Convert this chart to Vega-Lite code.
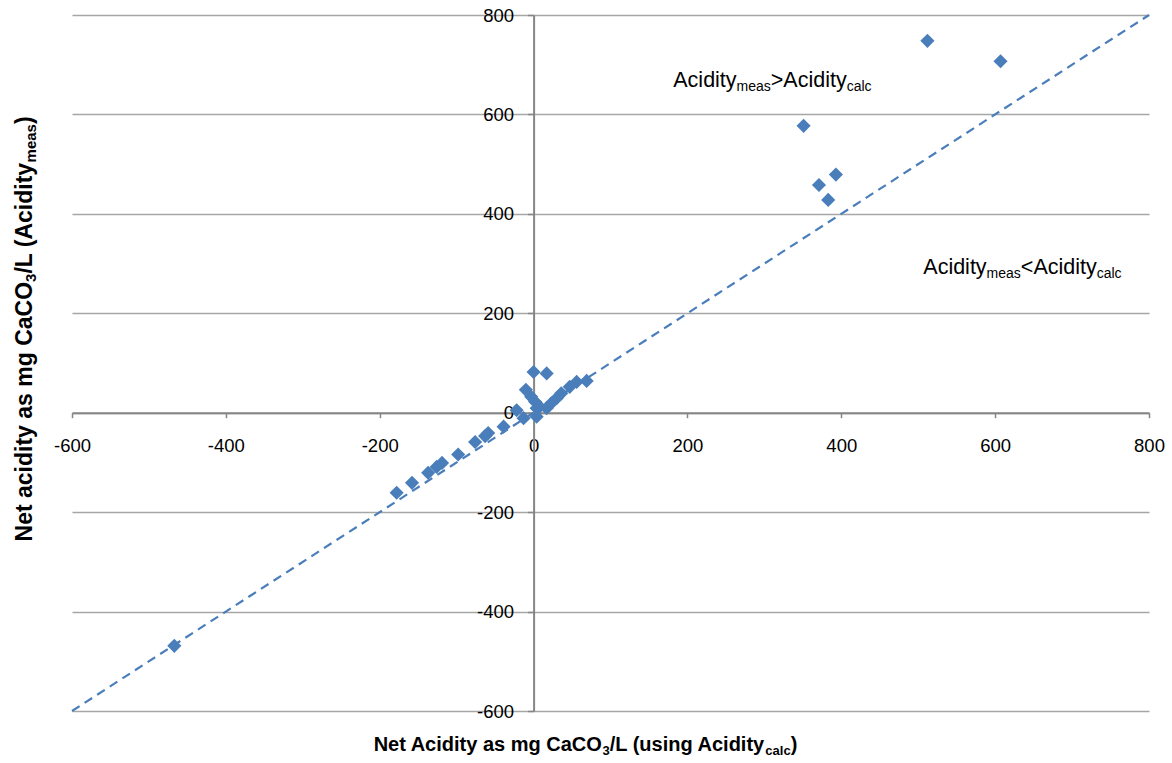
{
  "$schema": "https://vega.github.io/schema/vega-lite/v6.json",
  "width": 1077,
  "height": 696,
  "autosize": {"type": "none"},
  "padding": {"left": 72, "top": 15, "right": 23, "bottom": 52},
  "background": "white",
  "config": {
    "view": {"stroke": null},
    "font": "Liberation Sans",
    "text": {"font": "Liberation Sans", "color": "#000000"}
  },
  "datasets": {
    "points": [
      {"calc": 512, "meas": 748},
      {"calc": 607, "meas": 707},
      {"calc": 351, "meas": 577},
      {"calc": 371, "meas": 458},
      {"calc": 393, "meas": 479},
      {"calc": 383, "meas": 428},
      {"calc": 0, "meas": 82},
      {"calc": 17, "meas": 79},
      {"calc": -10, "meas": 46},
      {"calc": -3, "meas": 32},
      {"calc": 2, "meas": 22},
      {"calc": -22, "meas": 5},
      {"calc": -13, "meas": -11},
      {"calc": 4, "meas": -8},
      {"calc": 4, "meas": 9},
      {"calc": 8, "meas": 12},
      {"calc": 17, "meas": 9},
      {"calc": 23, "meas": 19},
      {"calc": 30, "meas": 29},
      {"calc": 36, "meas": 39},
      {"calc": 47, "meas": 52},
      {"calc": 56, "meas": 62},
      {"calc": 69, "meas": 64},
      {"calc": -39, "meas": -28},
      {"calc": -59, "meas": -41},
      {"calc": -63, "meas": -47},
      {"calc": -76, "meas": -59},
      {"calc": -98, "meas": -84},
      {"calc": -119, "meas": -101},
      {"calc": -126, "meas": -109},
      {"calc": -137, "meas": -121},
      {"calc": -158, "meas": -141},
      {"calc": -178, "meas": -161},
      {"calc": -467, "meas": -469}
    ],
    "ref": [
      {"calc": -600, "meas": -600},
      {"calc": 800, "meas": 800}
    ],
    "notes": [
      {"calc": 181.6, "meas": 655.8, "rel": ">"},
      {"calc": 506.6, "meas": 279, "rel": "<"}
    ],
    "xt": [{"calc": -207.9, "meas": -680.5}],
    "yt": [{"calc": -652, "meas": -258.9}]
  },
  "encoding": {
    "x": {
      "field": "calc",
      "type": "quantitative",
      "title": null,
      "scale": {"domain": [-600, 800], "nice": false, "zero": false},
      "axis": {
        "title": null,
        "values": [-600, -400, -200, 0, 200, 400, 600, 800],
        "labelExpr": "'' + datum.value",
        "offset": -298.3,
        "grid": false,
        "domainColor": "#868686",
        "domainWidth": 2,
        "tickColor": "#868686",
        "tickWidth": 1.5,
        "tickSize": 5,
        "labelPadding": 19,
        "labelFontSize": 18.5,
        "labelFont": "Liberation Sans",
        "labelColor": "#000000",
        "labelFlush": false,
        "labelOverlap": false
      }
    },
    "y": {
      "field": "meas",
      "type": "quantitative",
      "title": null,
      "scale": {"domain": [-600, 800], "nice": false, "zero": false},
      "axis": {
        "title": null,
        "values": [-600, -400, -200, 0, 200, 400, 600, 800],
        "labelExpr": "'' + datum.value",
        "offset": -461.6,
        "grid": true,
        "gridColor": "#A6A6A6",
        "gridWidth": 1.3,
        "domainColor": "#868686",
        "domainWidth": 2,
        "tickColor": "#868686",
        "tickWidth": 1.5,
        "tickSize": 6,
        "labelPadding": 14,
        "labelFontSize": 18.5,
        "labelFont": "Liberation Sans",
        "labelColor": "#000000",
        "labelFlush": false,
        "labelOverlap": false
      }
    }
  },
  "layer": [
    {
      "data": {"name": "ref"},
      "mark": {"type": "line", "color": "#4A7EBB", "strokeWidth": 2.2, "strokeDash": [9, 6]},
      "encoding": {}
    },
    {
      "data": {"name": "points"},
      "mark": {"type": "point", "shape": "diamond", "filled": true, "size": 200, "color": "#4A7EBB", "opacity": 1}
    },
    {
      "data": {"name": "notes"},
      "mark": {"type": "text", "text": "Acidity", "fontSize": 21.5, "align": "left", "baseline": "alphabetic"}
    },
    {
      "data": {"name": "notes"},
      "mark": {"type": "text", "text": "meas", "fontSize": 14, "align": "left", "baseline": "alphabetic", "dx": 63.3, "dy": 4}
    },
    {
      "data": {"name": "notes"},
      "mark": {"type": "text", "fontSize": 21.5, "align": "left", "baseline": "alphabetic", "dx": 97.5},
      "encoding": {"text": {"field": "rel"}}
    },
    {
      "data": {"name": "notes"},
      "mark": {"type": "text", "text": "Acidity", "fontSize": 21.5, "align": "left", "baseline": "alphabetic", "dx": 110.1}
    },
    {
      "data": {"name": "notes"},
      "mark": {"type": "text", "text": "calc", "fontSize": 14, "align": "left", "baseline": "alphabetic", "dx": 173.4, "dy": 4}
    },
    {
      "data": {"name": "xt"},
      "mark": {"type": "text", "text": "Net Acidity as mg CaCO", "fontSize": 20, "fontWeight": "bold", "align": "left", "baseline": "alphabetic"}
    },
    {
      "data": {"name": "xt"},
      "mark": {"type": "text", "text": "3", "fontSize": 13, "fontWeight": "bold", "align": "left", "baseline": "alphabetic", "dx": 228.9, "dy": 4}
    },
    {
      "data": {"name": "xt"},
      "mark": {"type": "text", "text": "/L (using Acidity", "fontSize": 20, "fontWeight": "bold", "align": "left", "baseline": "alphabetic", "dx": 236.1}
    },
    {
      "data": {"name": "xt"},
      "mark": {"type": "text", "text": "calc", "fontSize": 13, "fontWeight": "bold", "align": "left", "baseline": "alphabetic", "dx": 391.7, "dy": 4}
    },
    {
      "data": {"name": "xt"},
      "mark": {"type": "text", "text": ")", "fontSize": 20, "fontWeight": "bold", "align": "left", "baseline": "alphabetic", "dx": 417.0}
    },
    {
      "data": {"name": "yt"},
      "mark": {"type": "text", "text": "Net acidity as mg CaCO", "angle": 270, "fontSize": 23, "fontWeight": "bold", "align": "left", "baseline": "alphabetic"}
    },
    {
      "data": {"name": "yt"},
      "mark": {"type": "text", "text": "3", "angle": 270, "fontSize": 15, "fontWeight": "bold", "align": "left", "baseline": "alphabetic", "dx": 259.5, "dy": 4.5}
    },
    {
      "data": {"name": "yt"},
      "mark": {"type": "text", "text": "/L (Acidity", "angle": 270, "fontSize": 23, "fontWeight": "bold", "align": "left", "baseline": "alphabetic", "dx": 267.8}
    },
    {
      "data": {"name": "yt"},
      "mark": {"type": "text", "text": "meas", "angle": 270, "fontSize": 15, "fontWeight": "bold", "align": "left", "baseline": "alphabetic", "dx": 379.0, "dy": 4.5}
    },
    {
      "data": {"name": "yt"},
      "mark": {"type": "text", "text": ")", "angle": 270, "fontSize": 23, "fontWeight": "bold", "align": "left", "baseline": "alphabetic", "dx": 417.4}
    }
  ]
}
